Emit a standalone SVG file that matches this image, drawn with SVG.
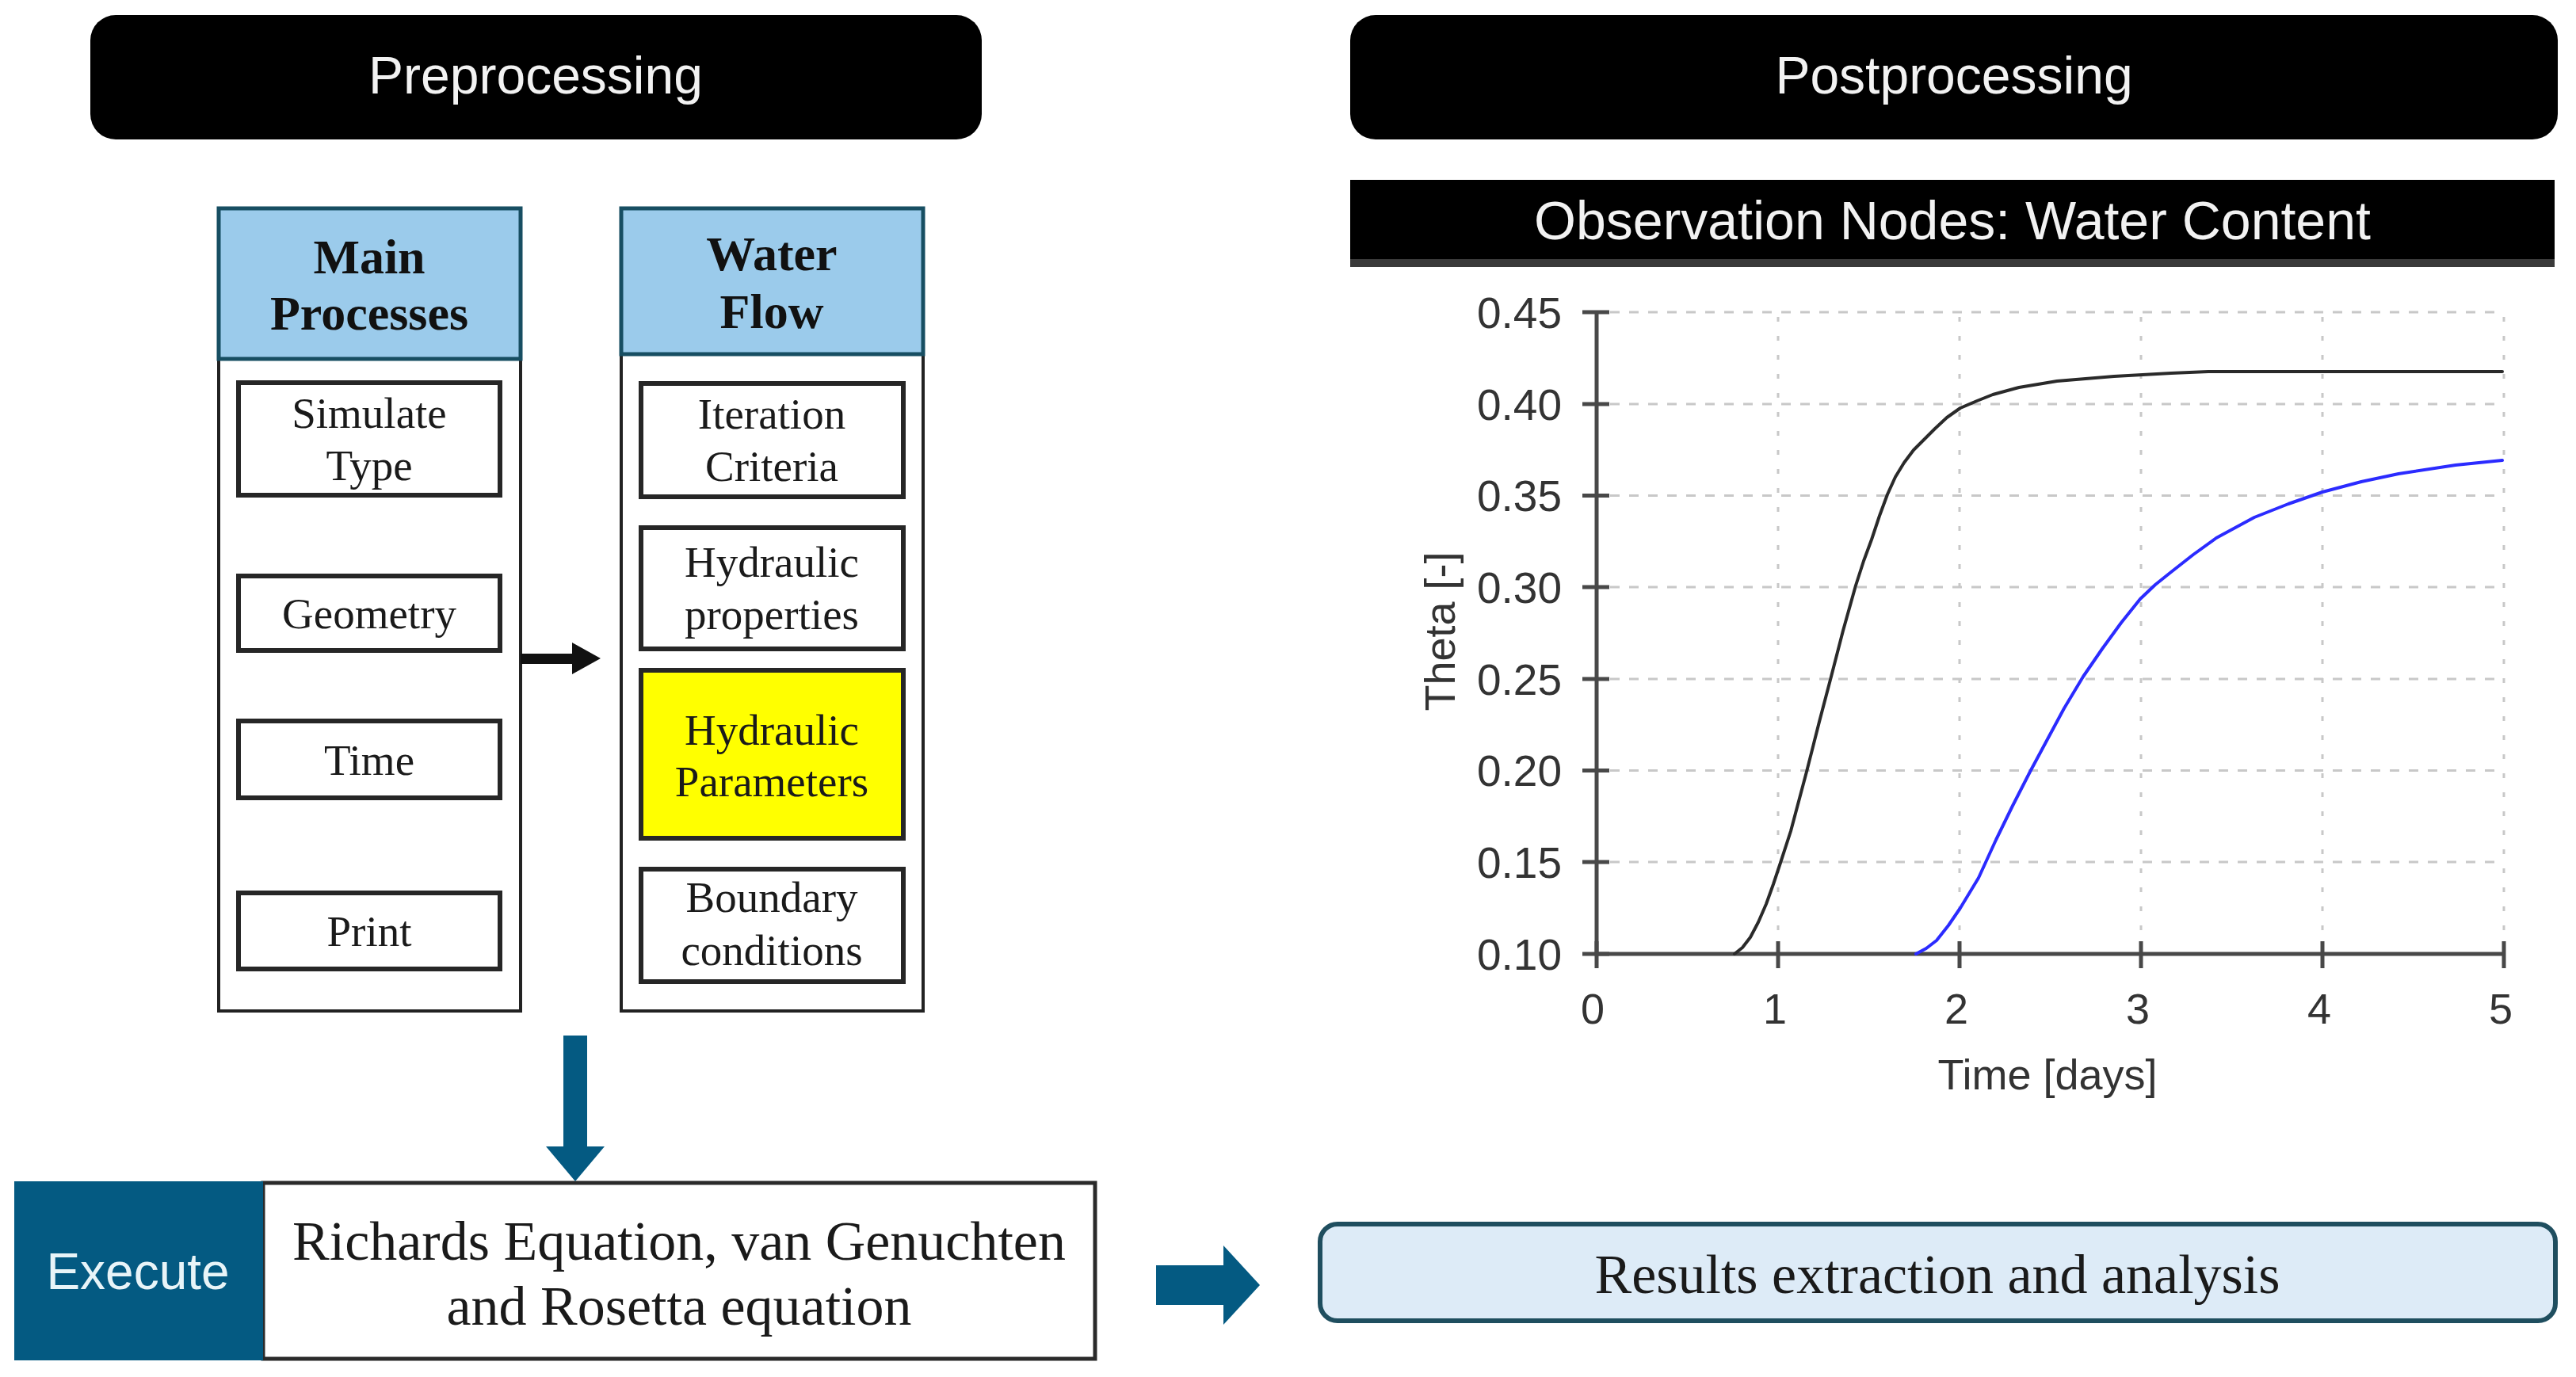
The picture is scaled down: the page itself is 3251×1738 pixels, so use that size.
<svg xmlns="http://www.w3.org/2000/svg" width="3251" height="1738" viewBox="0 0 3251 1738">
<defs>
<style>
.hdr{fill:#000;}
.hdrtxt{font-family:"Liberation Sans",Arial,sans-serif;font-size:66px;fill:#f2f2f2;text-anchor:middle;}
.col{fill:#fff;stroke:#222;stroke-width:4;}
.colhd{fill:#9BCBEB;stroke:#174e62;stroke-width:5;}
.hdtxt{font-family:"Liberation Serif","Times New Roman",serif;font-weight:bold;font-size:62px;fill:#111;text-anchor:middle;}
.box{fill:#fff;stroke:#262626;stroke-width:6;}
.ybox{fill:#FFFF00;stroke:#262626;stroke-width:6;}
.btxt{font-family:"Liberation Serif","Times New Roman",serif;font-size:55px;fill:#1a1a1a;text-anchor:middle;}
.big{font-family:"Liberation Serif","Times New Roman",serif;font-size:70px;fill:#1a1a1a;text-anchor:middle;}
.teal{fill:#045A82;}
.grid-h{stroke:#c8c8c8;stroke-width:3;stroke-dasharray:12 12;fill:none;}
.grid-v{stroke:#c8c8c8;stroke-width:3;stroke-dasharray:6 18;fill:none;}
.axis{stroke:#484848;stroke-width:5;fill:none;}
.tick{stroke:#484848;stroke-width:5;}
.ylab{font-family:"Liberation Sans",Arial,sans-serif;font-size:55px;fill:#333;text-anchor:end;}
.xlab{font-family:"Liberation Sans",Arial,sans-serif;font-size:54px;fill:#333;text-anchor:middle;}
</style>
</defs>
<rect width="3251" height="1738" fill="#fff"/>

<g id="preprocessing-header">
<rect class="hdr" x="114" y="19" width="1125" height="157" rx="32"/>
<text class="hdrtxt" x="676" y="118">Preprocessing</text>
</g>

<g id="postprocessing-header">
<rect class="hdr" x="1704" y="19" width="1524" height="157" rx="32"/>
<text class="hdrtxt" x="2466" y="118">Postprocessing</text>
</g>

<g id="main-processes">
<rect class="col" x="276" y="263" width="381" height="1013"/>
<rect class="colhd" x="276" y="263" width="381" height="190"/>
<text class="hdtxt" x="466" y="345">Main</text>
<text class="hdtxt" x="466" y="416">Processes</text>
</g>
<g id="simulate-type">
<rect class="box" x="301" y="483" width="330" height="142"/>
<text class="btxt" x="466" y="540">Simulate</text>
<text class="btxt" x="466" y="606">Type</text>
</g>
<g id="geometry">
<rect class="box" x="301" y="727" width="330" height="94"/>
<text class="btxt" x="466" y="793">Geometry</text>
</g>
<g id="time">
<rect class="box" x="301" y="910" width="330" height="97"/>
<text class="btxt" x="466" y="978">Time</text>
</g>
<g id="print">
<rect class="box" x="301" y="1127" width="330" height="96"/>
<text class="btxt" x="466" y="1194">Print</text>
</g>

<g id="water-flow">
<rect class="col" x="784" y="263" width="381" height="1013"/>
<rect class="colhd" x="784" y="263" width="381" height="184"/>
<text class="hdtxt" x="974" y="341">Water</text>
<text class="hdtxt" x="974" y="414">Flow</text>
</g>
<g id="iteration-criteria">
<rect class="box" x="809" y="484" width="331" height="143"/>
<text class="btxt" x="974" y="541">Iteration</text>
<text class="btxt" x="974" y="607">Criteria</text>
</g>
<g id="hydraulic-properties">
<rect class="box" x="809" y="666" width="331" height="153"/>
<text class="btxt" x="974" y="728">Hydraulic</text>
<text class="btxt" x="974" y="794">properties</text>
</g>
<g id="hydraulic-parameters">
<rect class="ybox" x="809" y="846" width="331" height="212"/>
<text class="btxt" x="974" y="940">Hydraulic</text>
<text class="btxt" x="974" y="1005">Parameters</text>
</g>
<g id="boundary-conditions">
<rect class="box" x="809" y="1097" width="331" height="142"/>
<text class="btxt" x="974" y="1151">Boundary</text>
<text class="btxt" x="974" y="1218">conditions</text>
</g>

<g id="execute">
<rect x="332" y="1493" width="1050" height="222" fill="#fff" stroke="#2a2a2a" stroke-width="5"/>
<rect class="teal" x="18" y="1491" width="314" height="226"/>
<text x="174" y="1627" font-family="'Liberation Sans',Arial,sans-serif" font-size="64" fill="#e8f4f8" text-anchor="middle">Execute</text>
<text class="big" x="857" y="1590">Richards Equation, van Genuchten</text>
<text class="big" x="857" y="1672">and Rosetta equation</text>
</g>

<g id="results">
<rect x="1666" y="1545" width="1559" height="122" rx="22" fill="#DDEBF7" stroke="#1F4E5F" stroke-width="6"/>
<text class="big" x="2445" y="1632">Results extraction and analysis</text>
</g>

<g id="observation-chart">
<rect x="1704" y="227" width="1520" height="110" fill="#000"/>
<rect x="1704" y="327" width="1520" height="10" fill="#3a3a3a"/>
<text x="2464" y="302" font-family="'Liberation Sans',Arial,sans-serif" font-size="68" fill="#f2f2f2" text-anchor="middle">Observation Nodes: Water Content</text>

<g id="grid">
<path class="grid-h" d="M2032 394H3160M2032 510H3160M2032 625.5H3160M2032 741H3160M2032 857H3160M2032 972.5H3160M2032 1088H3160"/>
<path class="grid-v" d="M2244 400V1190M2473 400V1190M2702 400V1190M2931 400V1190M3160 400V1190"/>
</g>
<g id="axes">
<path class="axis" d="M2015 394V1204H3160"/>
<path class="tick" d="M1997 394H2031M1997 510H2031M1997 625.5H2031M1997 741H2031M1997 857H2031M1997 972.5H2031M1997 1088H2031M1997 1204H2031"/>
<path class="tick" d="M2015 1188V1222M2244 1188V1222M2473 1188V1222M2702 1188V1222M2931 1188V1222M3160 1188V1222"/>
</g>
<g id="y-labels">
<text class="ylab" x="1971" y="414">0.45</text>
<text class="ylab" x="1971" y="530">0.40</text>
<text class="ylab" x="1971" y="645">0.35</text>
<text class="ylab" x="1971" y="761">0.30</text>
<text class="ylab" x="1971" y="877">0.25</text>
<text class="ylab" x="1971" y="992">0.20</text>
<text class="ylab" x="1971" y="1108">0.15</text>
<text class="ylab" x="1971" y="1224">0.10</text>
</g>
<g id="x-labels">
<text class="xlab" x="2010" y="1292">0</text>
<text class="xlab" x="2240" y="1292">1</text>
<text class="xlab" x="2469" y="1292">2</text>
<text class="xlab" x="2698" y="1292">3</text>
<text class="xlab" x="2927" y="1292">4</text>
<text class="xlab" x="3156" y="1292">5</text>
</g>
<text class="xlab" x="2584" y="1375">Time [days]</text>
<text class="xlab" transform="translate(1836 797) rotate(-90)" x="0" y="0">Theta [-]</text>

<polyline fill="none" stroke="#2a2a2a" stroke-width="4" stroke-linejoin="round" stroke-linecap="round" points="2189,1204 2199,1196 2209,1183 2219,1164 2229,1141 2238,1116 2247,1089 2260,1049 2280,974 2296,911 2311,854 2326,796 2342,739 2352,708 2362,681 2372,651 2382,624 2392,602 2403,584 2415,568 2428,555 2442,541 2457,527 2474,515 2495,506 2515,498 2548,489 2596,481 2668,475 2740,471 2787,469 3158,469"/>
<polyline fill="none" stroke="#2b2bff" stroke-width="4" stroke-linejoin="round" stroke-linecap="round" points="2418,1204 2431,1197 2444,1187 2459,1168 2474,1146 2497,1108 2519,1060 2540,1017 2562,974 2584,933 2605,894 2629,854 2653,819 2677,786 2701,756 2720,738 2740,722 2768,700 2797,679 2845,653 2888,636 2931,621 2980,608 3027,598 3099,587 3158,581"/>
</g>

<g id="connectors">
<path d="M657 825H722V811L758 831L722 851V838H657Z" fill="#111"/>
<path d="M711 1307H741V1447H763L726 1491L689 1447H711Z" fill="#045A82"/>
<path d="M1459 1597H1544V1572L1590 1622L1544 1672V1647H1459Z" fill="#045A82"/>
</g>
</svg>
